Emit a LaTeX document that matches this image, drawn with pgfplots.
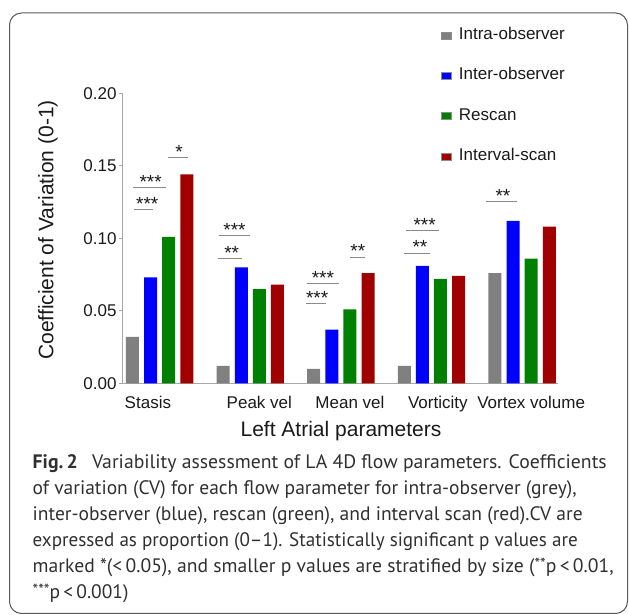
\documentclass[border=0pt]{standalone}
\usepackage{fontspec}
\setmainfont{Liberation Sans}
\newfontfamily\capfont[Ligatures=TeX]{PT Sans}
\usepackage{graphicx}
\usepackage{pgfplots}
\pgfplotsset{compat=1.18}

\definecolor{cgray}{HTML}{808080}
\definecolor{cblue}{HTML}{0000FF}
\definecolor{cgreen}{HTML}{008000}
\definecolor{cred}{HTML}{A00000}
\definecolor{axgray}{HTML}{A8A8A8}
\definecolor{sigline}{HTML}{8A8A8A}
\definecolor{txt}{HTML}{1A1A1A}
\definecolor{captxt}{HTML}{303030}

\newcommand{\tickfont}{\fontsize{17}{20}\selectfont}
\newcommand{\labfont}{\fontsize{21}{24}\selectfont}
\newcommand{\starfont}{\fontsize{19}{22}\selectfont}
\newcommand{\cfont}{\capfont\fontsize{19.5}{26}\selectfont}
\newcommand{\smallstars}[1]{{\fontsize{16}{16}\selectfont\raisebox{2.5pt}{#1}}}

\begin{document}
\begin{tikzpicture}
\useasboundingbox (0,0) rectangle (629pt,615pt);
\draw[black!65, line width=1pt, rounded corners=12pt] (9.5pt,1.5pt) rectangle (627.5pt,602pt);
\begin{axis}[
  at={(122.7pt,231.7pt)}, anchor=south west,
  x=90.6pt, y=1450pt,
  xmin=-0.408, xmax=4.397, ymin=0, ymax=0.2,
  ybar, bar width=13pt,
  clip=false,
  axis x line*=bottom, axis y line*=left,
  axis line style={axgray, line width=1pt},
  tick align=outside, major tick length=4pt,
  ytick={0,0.05,0.1,0.15,0.2},
  yticklabels={0.00,0.05,0.10,0.15,0.20},
  ytick style={axgray, line width=1pt},
  yticklabel style={font=\tickfont, text=txt, inner sep=0pt, xshift=-2pt},
  xtick={-0.13,1.10,2.10,3.07,4.10},
  xticklabels={Stasis,Peak vel,Mean vel,Vorticity,Vortex volume},
  xtick style={draw=none},
  xticklabel style={font=\tickfont, text=txt, inner sep=0pt, anchor=base, yshift=-21pt},
  xlabel={Left Atrial parameters},
  xlabel style={font=\labfont, text=txt, inner sep=0pt, at={(axis description cs:0.5015,-0.1834)}, anchor=base},
  ylabel={Coefficient of Variation (0-1)},
  ylabel style={font=\labfont, text=txt, inner sep=0pt, at={(axis description cs:-0.159,0.5286)}, anchor=base, rotate=0},
  legend style={draw=none, fill=none, inner sep=0pt, font=\tickfont, text=txt,
    at={(axis description cs:0.7312,1.2272)}, anchor=north west,
    row sep=24.8pt,
    nodes={inner sep=0pt, text height=12pt, text depth=3.5pt},
    /tikz/every odd column/.append style={column sep=7.3pt}},
  legend cell align=left,
]
\addplot[fill=cgray, draw=none, bar shift=-27.2pt,
  legend image code/.code={\filldraw[fill=cgray, draw=black!45, line width=0.4pt] (0pt,-3.5pt) rectangle (10pt,3.5pt);}]
  coordinates {(0,0.032) (1,0.012) (2,0.010) (3,0.012) (4,0.076)};
\addplot[fill=cblue, draw=none, bar shift=-9pt,
  legend image code/.code={\filldraw[fill=cblue, draw=black!45, line width=0.4pt] (0pt,-3.5pt) rectangle (10pt,3.5pt);}]
  coordinates {(0,0.073) (1,0.080) (2,0.037) (3,0.081) (4,0.112)};
\addplot[fill=cgreen, draw=none, bar shift=9pt,
  legend image code/.code={\filldraw[fill=cgreen, draw=black!45, line width=0.4pt] (0pt,-3.5pt) rectangle (10pt,3.5pt);}]
  coordinates {(0,0.101) (1,0.065) (2,0.051) (3,0.072) (4,0.086)};
\addplot[fill=cred, draw=none, bar shift=27.2pt,
  legend image code/.code={\filldraw[fill=cred, draw=black!45, line width=0.4pt] (0pt,-3.5pt) rectangle (10pt,3.5pt);}]
  coordinates {(0,0.144) (1,0.068) (2,0.076) (3,0.074) (4,0.108)};
\legend{Intra-observer,Inter-observer,Rescan,Interval-scan}

% significance brackets
\draw[sigline, line width=0.8pt] (axis cs:-0.284,0.120) -- (axis cs:-0.077,0.120);
\draw[sigline, line width=0.8pt] (axis cs:-0.298,0.135) -- (axis cs:0.066,0.135);
\draw[sigline, line width=0.8pt] (axis cs:0.095,0.156) -- (axis cs:0.316,0.156);
\draw[sigline, line width=0.8pt] (axis cs:0.647,0.0862) -- (axis cs:0.912,0.0862);
\draw[sigline, line width=0.8pt] (axis cs:0.651,0.1018) -- (axis cs:1.0,0.1018);
\draw[sigline, line width=0.8pt] (axis cs:1.611,0.0552) -- (axis cs:1.832,0.0552);
\draw[sigline, line width=0.8pt] (axis cs:1.622,0.069) -- (axis cs:1.982,0.069);
\draw[sigline, line width=0.8pt] (axis cs:2.100,0.0871) -- (axis cs:2.269,0.0871);
\draw[sigline, line width=0.8pt] (axis cs:2.696,0.0899) -- (axis cs:2.980,0.0899);
\draw[sigline, line width=0.8pt] (axis cs:2.719,0.1055) -- (axis cs:3.086,0.1055);
\draw[sigline, line width=0.8pt] (axis cs:3.602,0.1255) -- (axis cs:3.940,0.1255);
\begin{scope}[every node/.style={font=\starfont, text=txt, inner sep=0pt, anchor=base, yshift=-1pt}]
\node at (axis cs:-0.137,0.120) {***};
\node at (axis cs:-0.099,0.135) {***};
\node at (axis cs:0.215,0.156) {*};
\node at (axis cs:0.795,0.0862) {**};
\node at (axis cs:0.826,0.1018) {***};
\node at (axis cs:1.738,0.0552) {***};
\node at (axis cs:1.802,0.069) {***};
\node at (axis cs:2.187,0.0871) {**};
\node at (axis cs:2.873,0.0899) {**};
\node at (axis cs:2.925,0.1055) {***};
\node at (axis cs:3.789,0.1255) {**};
\end{scope}
\end{axis}

\begin{scope}[every node/.style={anchor=base west, inner sep=0pt, font=\cfont, text=captxt}]
\node at (32.5pt,146.7pt) {\resizebox{574pt}{\height}{\textbf{Fig.\,2}\hspace{14pt}Variability assessment of LA 4D flow parameters. Coefficients}};
\node at (32.5pt,120.7pt) {\resizebox{544pt}{\height}{of variation (CV) for each flow parameter for intra-observer (grey),}};
\node at (32.5pt,94.7pt) {\resizebox{550pt}{\height}{inter-observer (blue), rescan (green), and interval scan (red).CV are}};
\node at (32.5pt,68.7pt) {\resizebox{545pt}{\height}{expressed as proportion (0–1). Statistically significant p values are}};
\node at (32.5pt,42.7pt) {\resizebox{581pt}{\height}{marked *(<\,0.05), and smaller p values are stratified by size (\smallstars{**}p\,<\,0.01,}};
\node at (32.5pt,16.7pt) {\smallstars{***}p\,<\,0.001)};
\end{scope}
\end{tikzpicture}
\end{document}
